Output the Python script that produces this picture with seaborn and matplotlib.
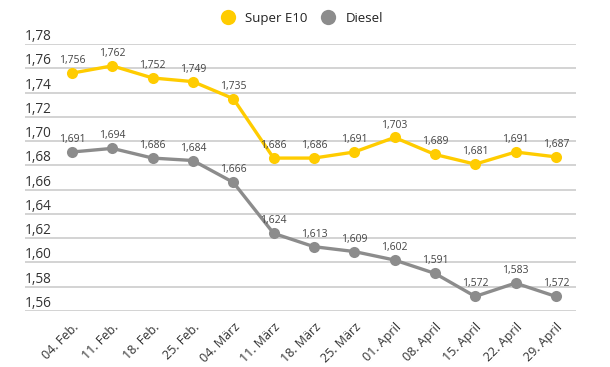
import matplotlib.pyplot as plt
import pandas as pd
import seaborn as sns
from matplotlib.lines import Line2D
from matplotlib.transforms import blended_transform_factory

sns.set_style("white")
plt.rcParams["font.family"] = ["Open Sans", "DejaVu Sans"]

dates = ["04. Feb.", "11. Feb.", "18. Feb.", "25. Feb.", "04. März", "11. März",
         "18. März", "25. März", "01. April", "08. April", "15. April",
         "22. April", "29. April"]
super_e10 = [1.756, 1.762, 1.752, 1.749, 1.735, 1.686, 1.686, 1.691, 1.703,
             1.689, 1.681, 1.691, 1.687]
diesel = [1.691, 1.694, 1.686, 1.684, 1.666, 1.624, 1.613, 1.609, 1.602,
          1.591, 1.572, 1.583, 1.572]
y_ticks = [1.56, 1.58, 1.60, 1.62, 1.64, 1.66, 1.68, 1.70, 1.72, 1.74, 1.76, 1.78]

colors = {"Super E10": "#ffcc00", "Diesel": "#8c8c8c"}

df = pd.DataFrame({
    "idx": list(range(len(dates))) * 2,
    "price": super_e10 + diesel,
    "fuel": ["Super E10"] * len(dates) + ["Diesel"] * len(dates),
})

fig = plt.figure(figsize=(6.1, 3.67), dpi=100)
ax = fig.add_axes([25 / 610, 1 - 311 / 367, (576 - 25) / 610, (311 - 44) / 367])

sns.lineplot(data=df, x="idx", y="price", hue="fuel", palette=colors,
             marker="o", markersize=8, markeredgewidth=0, linewidth=2.4,
             legend=False, ax=ax)

ax.set_xlim(-1.165, 12.5)
ax.set_ylim(1.56, 1.78)
ax.set_yticks(y_ticks)
ax.set_yticklabels([])
ax.grid(axis="y", color="#cccccc", linewidth=1.2)
ax.set_axisbelow(True)
for s in ax.spines.values():
    s.set_visible(False)
ax.tick_params(length=0)
ax.set_xlabel("")
ax.set_ylabel("")

# y labels sit above their grid lines, left aligned
trans = blended_transform_factory(ax.transAxes, ax.transData)
for t in y_ticks:
    ax.text(0.0, t, f"{t:.2f}".replace(".", ","), transform=trans,
            ha="left", va="bottom", fontsize=9.8, color="#333333")

ax.set_xticks(range(len(dates)))
ax.set_xticklabels(dates, rotation=45, ha="right", rotation_mode="anchor",
                   fontsize=9, color="#333333")
ax.tick_params(axis="x", pad=7)

for series in (super_e10, diesel):
    for i, v in enumerate(series):
        ax.annotate(f"{v:.3f}".replace(".", ","), (i, v), xytext=(0, 5),
                    textcoords="offset points", ha="center", va="bottom",
                    fontsize=7.5, color="#444444")

handles = [Line2D([], [], linestyle="", marker="o", markersize=11,
                  markerfacecolor=c, markeredgewidth=0) for c in colors.values()]
fig.legend(handles, list(colors.keys()), loc="center", bbox_to_anchor=(0.49, 0.95),
           ncol=2, frameon=False, fontsize=9.5, handletextpad=0.3, columnspacing=0.6,
           labelcolor="#222222")

fig.savefig("out.png", dpi=100)
